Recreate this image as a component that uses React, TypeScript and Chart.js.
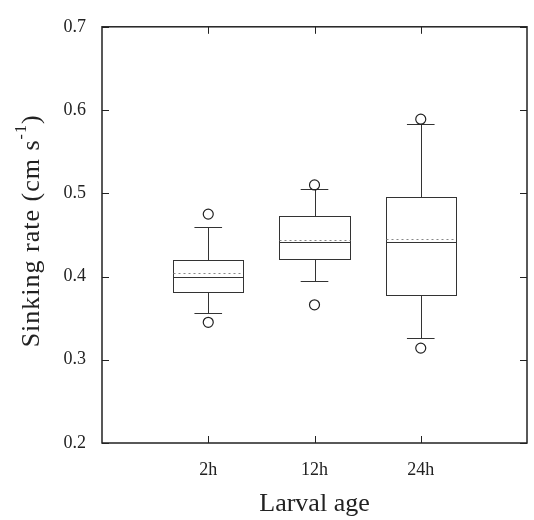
import React, { useEffect, useRef } from "react";
import { Chart, registerables } from "chart.js";

Chart.register(...registerables);

const categories = ["2h", "12h", "24h"];
const whiskerLow = [0.356, 0.395, 0.326];
const q1 = [0.381, 0.421, 0.378];
const median = [0.399, 0.442, 0.442];
const mean = [0.404, 0.444, 0.445];
const q3 = [0.42, 0.473, 0.496];
const whiskerHigh = [0.46, 0.505, 0.583];
const outliersHigh = [0.475, 0.51, 0.589];
const outliersLow = [0.345, 0.366, 0.314];
const yTicks = [0.2, 0.3, 0.4, 0.5, 0.6, 0.7];
const xTicks = [1, 2, 3];

const FONT = "'Liberation Serif', 'Times New Roman', serif";
const INK = "#222";

const boxPlugin = {
  id: "boxPlot",
  beforeDatasetsDraw(chart: any) {
    const { ctx, scales } = chart;
    const xs = scales.x;
    const ys = scales.y;
    ctx.save();
    ctx.lineWidth = 1;
    ctx.strokeStyle = "#333";
    categories.forEach((_, i) => {
      const c = i + 1;
      const xc = Math.round(xs.getPixelForValue(c)) + 0.5;
      const xl = Math.round(xs.getPixelForValue(c - 0.33)) + 0.5;
      const xr = Math.round(xs.getPixelForValue(c + 0.33)) + 0.5;
      const cl = xs.getPixelForValue(c - 0.13);
      const cr = xs.getPixelForValue(c + 0.13);
      const py = (v: number) => Math.round(ys.getPixelForValue(v)) + 0.5;
      ctx.setLineDash([]);
      ctx.beginPath();
      ctx.moveTo(xc, py(q3[i]));
      ctx.lineTo(xc, py(whiskerHigh[i]));
      ctx.moveTo(cl, py(whiskerHigh[i]));
      ctx.lineTo(cr, py(whiskerHigh[i]));
      ctx.moveTo(xc, py(q1[i]));
      ctx.lineTo(xc, py(whiskerLow[i]));
      ctx.moveTo(cl, py(whiskerLow[i]));
      ctx.lineTo(cr, py(whiskerLow[i]));
      ctx.stroke();
      ctx.strokeRect(xl, py(q3[i]), xr - xl, py(q1[i]) - py(q3[i]));
      ctx.beginPath();
      ctx.moveTo(xl, py(median[i]));
      ctx.lineTo(xr, py(median[i]));
      ctx.stroke();
      ctx.strokeStyle = "#888";
      ctx.setLineDash([2, 3]);
      ctx.beginPath();
      ctx.moveTo(xl, py(mean[i]));
      ctx.lineTo(xr, py(mean[i]));
      ctx.stroke();
      ctx.strokeStyle = "#333";
    });
    ctx.restore();
  },
  afterDraw(chart: any) {
    const { ctx, chartArea, scales } = chart;
    const { left, right, top, bottom } = chartArea;
    ctx.save();
    ctx.strokeStyle = INK;
    ctx.lineWidth = 1.5;
    ctx.strokeRect(left, top, right - left, bottom - top);
    ctx.lineWidth = 1;
    ctx.beginPath();
    const tl = 7;
    yTicks.forEach((v) => {
      const y = Math.round(scales.y.getPixelForValue(v)) + 0.5;
      ctx.moveTo(left, y);
      ctx.lineTo(left + tl, y);
      ctx.moveTo(right, y);
      ctx.lineTo(right - tl, y);
    });
    xTicks.forEach((v) => {
      const x = Math.round(scales.x.getPixelForValue(v)) + 0.5;
      ctx.moveTo(x, bottom);
      ctx.lineTo(x, bottom - tl);
      ctx.moveTo(x, top);
      ctx.lineTo(x, top + tl);
    });
    ctx.stroke();

    // y-axis title with superscript
    const size = 26;
    const sup = 16;
    const parts = [
      { t: "Sinking rate (cm s", s: size, dy: 0 },
      { t: "-1", s: sup, dy: -10 },
      { t: ")", s: size, dy: 0 },
    ];
    ctx.fillStyle = INK;
    (ctx as any).letterSpacing = "1px";
    let total = 0;
    parts.forEach((p) => {
      ctx.font = `${p.s}px ${FONT}`;
      total += ctx.measureText(p.t).width;
    });
    const cy = (top + bottom) / 2 - 4;
    ctx.translate(32, cy);
    ctx.rotate(-Math.PI / 2);
    ctx.textBaseline = "middle";
    ctx.textAlign = "left";
    let x = -total / 2;
    parts.forEach((p) => {
      ctx.font = `${p.s}px ${FONT}`;
      ctx.fillText(p.t, x, p.dy);
      x += ctx.measureText(p.t).width;
    });
    ctx.restore();
  },
};

export default function App() {
  const ref = useRef<HTMLCanvasElement | null>(null);
  useEffect(() => {
    if (!ref.current) return;
    const outlierPoints = [
      ...outliersHigh.map((v, i) => ({ x: i + 1, y: v })),
      ...outliersLow.map((v, i) => ({ x: i + 1, y: v })),
    ];
    const chart = new Chart(ref.current, {
      type: "scatter",
      data: {
        datasets: [
          {
            data: outlierPoints,
            pointStyle: "circle",
            pointRadius: 5,
            pointBorderWidth: 1.2,
            borderColor: "#222",
            backgroundColor: "rgba(0,0,0,0)",
          },
        ],
      },
      options: {
        animation: false,
        responsive: false,
        layout: { padding: { left: 0, right: 7, top: 20, bottom: 0 } },
        plugins: { legend: { display: false }, tooltip: { enabled: false } },
        scales: {
          x: {
            type: "linear",
            min: 0,
            max: 4,
            afterBuildTicks: (s: any) => {
              s.ticks = xTicks.map((v) => ({ value: v }));
            },
            afterFit: (s: any) => {
              s.height = 77;
            },
            ticks: {
              callback: (v: any) => categories[Number(v) - 1] ?? "",
              font: { family: FONT, size: 18 },
              color: INK,
              padding: 16,
              maxRotation: 0,
            },
            grid: { display: false, drawTicks: false },
            border: { display: false },
            title: {
              display: true,
              text: "Larval age",
              font: { family: FONT, size: 26, lineHeight: 1 },
              color: INK,
              padding: { top: 0, bottom: 3 },
            },
          },
          y: {
            type: "linear",
            min: 0.2,
            max: 0.7,
            afterBuildTicks: (s: any) => {
              s.ticks = yTicks.map((v) => ({ value: v }));
            },
            afterFit: (s: any) => {
              s.width = 102;
            },
            ticks: {
              callback: (v: any) => Number(v).toFixed(1),
              font: { family: FONT, size: 18 },
              color: INK,
              padding: 16,
            },
            grid: { display: false, drawTicks: false },
            border: { display: false },
          },
        },
      },
      plugins: [boxPlugin],
    });
    return () => chart.destroy();
  }, []);
  return (
    <div style={{ position: "fixed", left: 0, top: 0, width: 534, height: 520, background: "#fff" }}>
      <canvas ref={ref} width={534} height={520} />
    </div>
  );
}
